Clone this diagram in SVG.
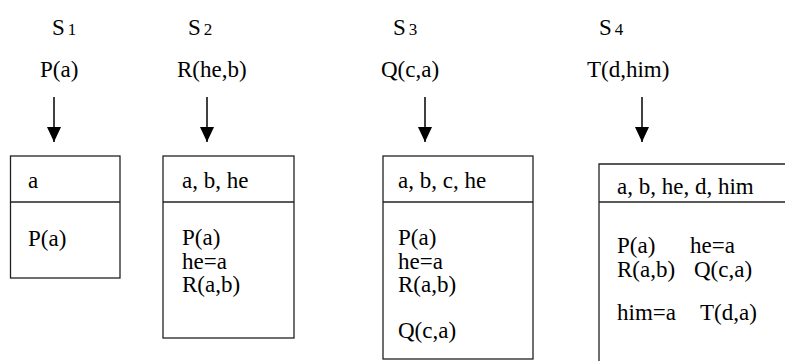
<svg xmlns="http://www.w3.org/2000/svg" width="785" height="361" viewBox="0 0 785 361">
<style>
text{font-family:'Liberation Serif','Times New Roman',serif;font-size:23px;fill:#000}
.sub{font-size:17px}
.box{fill:none;stroke:#222;stroke-width:1.3}
.arr{stroke:#000;stroke-width:1.5;fill:none}
</style>
<defs>
<marker id="ah" markerWidth="15" markerHeight="14" refX="15" refY="7" orient="auto" markerUnits="userSpaceOnUse" viewBox="0 0 15 14">
<path d="M0,0 L15,7 L0,14 Z" fill="#000"/>
</marker>
</defs>
<g id="labels">
<text x="52" y="35">S<tspan class="sub" dx="3">1</tspan></text>
<text x="40" y="77">P(a)</text>
<text x="188" y="35">S<tspan class="sub" dx="3">2</tspan></text>
<text x="177" y="77">R(he,b)</text>
<text x="393" y="35">S<tspan class="sub" dx="3">3</tspan></text>
<text x="381" y="77">Q(c,a)</text>
<text x="599" y="35">S<tspan class="sub" dx="3">4</tspan></text>
<text x="587" y="77">T(d,him)</text>
</g>
<g id="connectors">
<path class="arr" d="M54,97 V142" marker-end="url(#ah)"/>
<path class="arr" d="M207,97 V142" marker-end="url(#ah)"/>
<path class="arr" d="M425,97 V142" marker-end="url(#ah)"/>
<path class="arr" d="M642,97 V142" marker-end="url(#ah)"/>
</g>
<g id="s1">
<rect class="box" x="10.5" y="156" width="109.5" height="122"/>
<line class="box" x1="10.5" y1="202" x2="120" y2="202"/>
<text x="28" y="188">a</text>
<text x="28" y="246">P(a)</text>
</g>
<g id="s2">
<rect class="box" x="163" y="156" width="131" height="182"/>
<line class="box" x1="163" y1="202" x2="294" y2="202"/>
<text x="182" y="188">a, b, he</text>
<text x="182" y="245">P(a)</text>
<text x="182" y="269">he=a</text>
<text x="182" y="292">R(a,b)</text>
</g>
<g id="s3">
<rect class="box" x="383" y="156" width="150" height="203"/>
<line class="box" x1="383" y1="202" x2="533" y2="202"/>
<text x="398" y="188">a, b, c, he</text>
<text x="398" y="245">P(a)</text>
<text x="398" y="269">he=a</text>
<text x="398" y="292">R(a,b)</text>
<text x="398" y="338">Q(c,a)</text>
</g>
<g id="s4">
<path class="box" d="M599,361 V164 H786"/>
<line class="box" x1="599" y1="202" x2="786" y2="202"/>
<text x="617" y="194">a, b, he, d, him</text>
<text x="617" y="253">P(a)</text>
<text x="690" y="253">he=a</text>
<text x="617" y="277">R(a,b)</text>
<text x="694" y="277">Q(c,a)</text>
<text x="617" y="320">him=a</text>
<text x="700" y="320">T(d,a)</text>
</g>
</svg>
